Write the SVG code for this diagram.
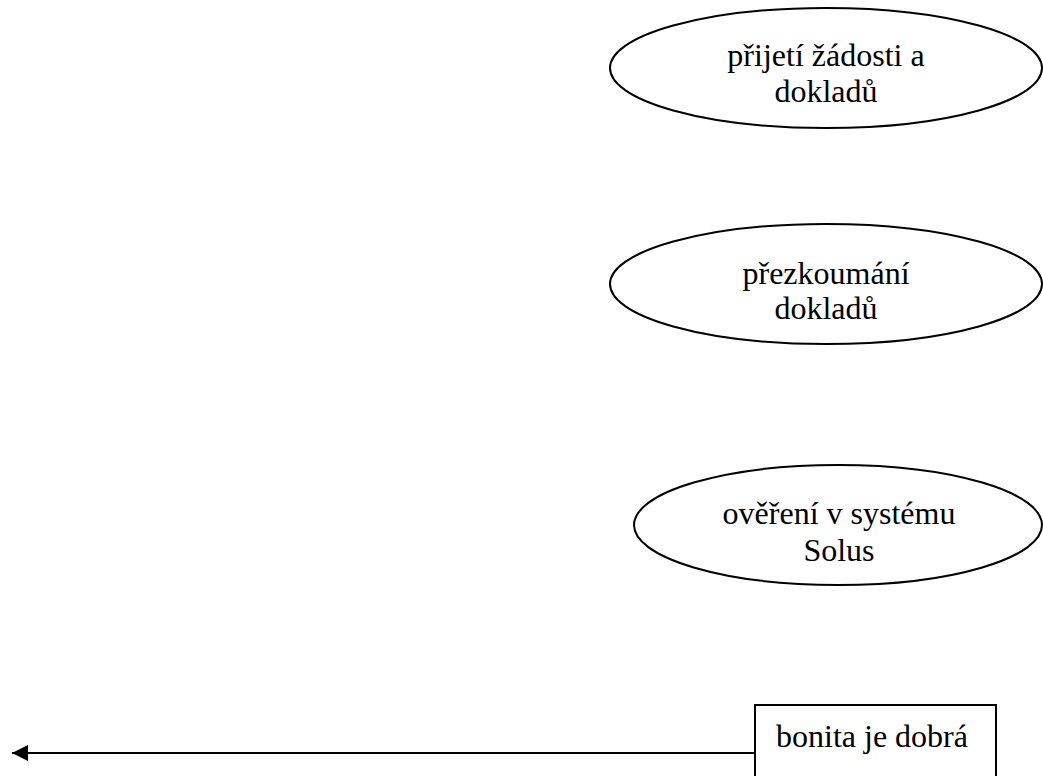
<svg xmlns="http://www.w3.org/2000/svg" width="1043" height="776" viewBox="0 0 1043 776">
  <style>
    .shape { fill: #ffffff; stroke: #000000; stroke-width: 2; }
    .label { font-family: "Liberation Serif", "Times New Roman", serif; font-size: 32px; fill: #000000; }
    .mid { text-anchor: middle; }
    .conn { stroke: #000000; stroke-width: 2; fill: none; }
  </style>
  <defs>
    <!-- filled triangular head, tip placed on the line end -->
    <marker id="arrow" viewBox="0 0 16 16" refX="16" refY="8" markerWidth="16" markerHeight="16" markerUnits="userSpaceOnUse" orient="auto">
      <path d="M0,0 L16,8 L0,16 Z" fill="#000000"/>
    </marker>
  </defs>
  <rect width="1043" height="776" fill="#ffffff"/>

  <g id="node-prijeti">
    <ellipse class="shape" cx="826" cy="68" rx="216" ry="60"/>
    <text class="label mid" x="826" y="66">přijetí žádosti a</text>
    <text class="label mid" x="826" y="102">dokladů</text>
  </g>

  <g id="node-prezkoumani">
    <ellipse class="shape" cx="826" cy="284" rx="216" ry="60"/>
    <text class="label mid" x="826" y="284">přezkoumání</text>
    <text class="label mid" x="826" y="319">dokladů</text>
  </g>

  <g id="node-overeni">
    <ellipse class="shape" cx="838" cy="525" rx="204" ry="60"/>
    <text class="label mid" x="839" y="524">ověření v systému</text>
    <text class="label mid" x="839" y="561">Solus</text>
  </g>

  <g id="node-bonita">
    <rect class="shape" x="755" y="705" width="241" height="90"/>
    <text class="label" x="776" y="747">bonita je dobrá</text>
  </g>

  <g id="connectors">
    <line class="conn" x1="755" y1="753" x2="12" y2="753" marker-end="url(#arrow)"/>
  </g>
</svg>
